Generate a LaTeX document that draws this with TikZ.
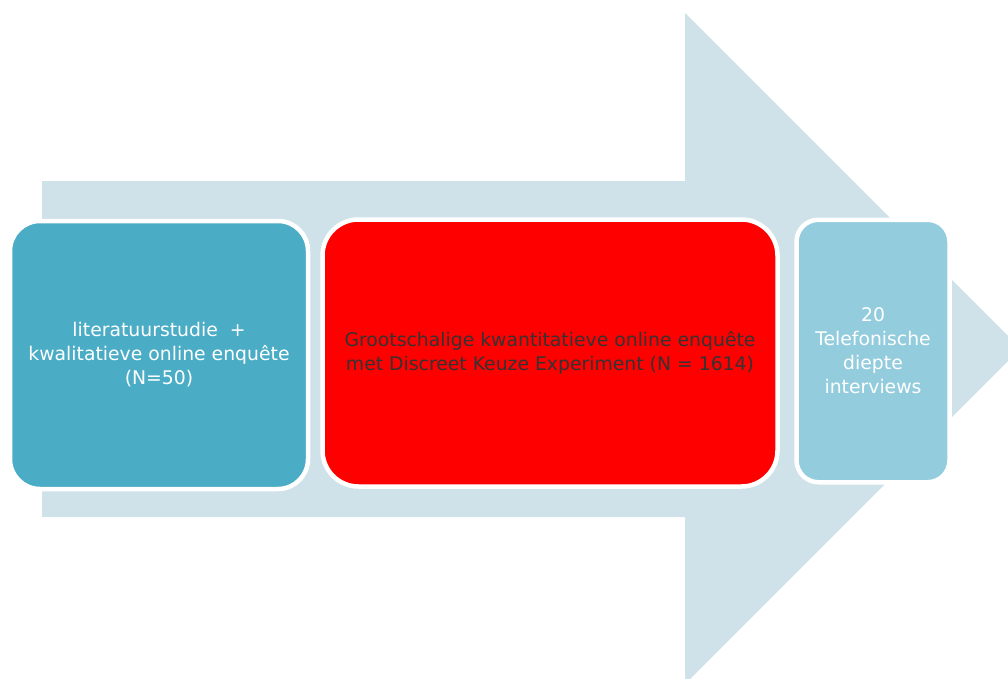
\documentclass[tikz,border=0pt]{standalone}
\usepackage{fontspec}
\setmainfont{DejaVu Sans}
\definecolor{arrowbg}{RGB}{207,225,233}
\definecolor{boxdark}{RGB}{75,172,198}
\definecolor{boxlight}{RGB}{147,205,221}
\definecolor{redbox}{RGB}{255,0,0}
\definecolor{darktext}{RGB}{51,51,51}
\tikzset{
  stagebox/.style={draw=white, line width=4.5pt, inner sep=0pt, align=center,
    font=\fontsize{18.8}{24}\selectfont},
}
\begin{document}
\begin{tikzpicture}[x=1pt,y=-1pt]
\useasboundingbox (0,0) rectangle (1008,679);
\clip (0,0) rectangle (1008,679);
\fill[arrowbg] (42,181) -- (685,181) -- (685,13) -- (1020.5,348.5) -- (685,684) -- (685,517) -- (42,517) -- cycle;
\node[stagebox, fill=boxdark, text=white, rounded corners=30pt,
  minimum width=298pt, minimum height=268pt] (lit) at (159,355)
  {literatuurstudie \ +\\kwalitatieve online enquête\\(N=50)};
\node[stagebox, fill=redbox, text=darktext, rounded corners=36pt,
  minimum width=455pt, minimum height=267pt] (quant) at (550,353)
  {Grootschalige kwantitatieve online enquête\\met Discreet Keuze Experiment (N = 1614)};
\node[stagebox, fill=boxlight, text=white, rounded corners=22pt,
  minimum width=153pt, minimum height=262.5pt] (tel) at (873,351)
  {20\\Telefonische\\diepte\\interviews};
\end{tikzpicture}
\end{document}
